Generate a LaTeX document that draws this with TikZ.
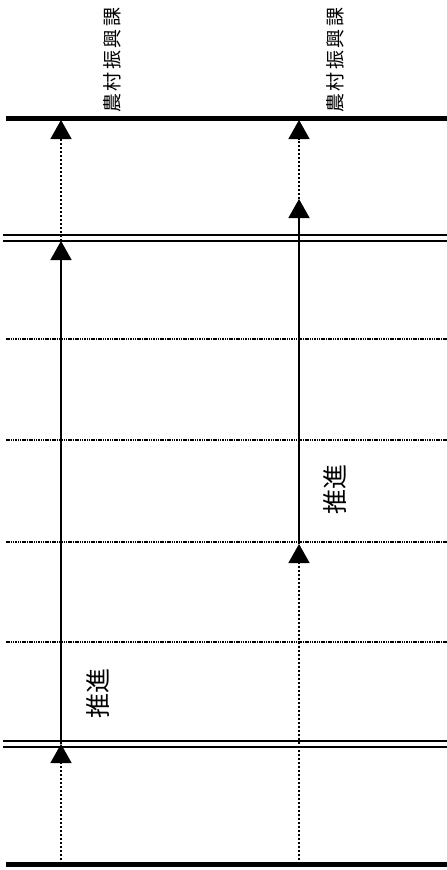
\documentclass[tikz,border=0pt]{standalone}
\usepackage{fontspec}
\newfontfamily\cjk{Noto Sans CJK JP}
\usetikzlibrary{arrows.meta}
\newcommand{\cgap}{\hspace{2.5pt}}
\begin{document}
\begin{tikzpicture}[x=1pt,y=-1pt,
  thickline/.style={line width=5pt},
  dblline/.style={line width=2.5pt},
  dotline/.style={line width=2.2pt, dash pattern=on 1.5pt off 0.8pt},
  vsolid/.style={line width=1.7pt},
  vdot/.style={line width=1.7pt, dash pattern=on 2pt off 2pt},
  tipup/.style={-{Triangle[width=21pt,length=19pt]}},
  lbl/.style={font=\cjk\fontsize{19}{19}\selectfont, rotate=90, inner sep=0pt},
  biglbl/.style={font=\cjk\fontsize{25}{25}\selectfont, rotate=90, inner sep=0pt},
]
\useasboundingbox (0,0) rectangle (447,870);
% horizontal levels
\coordinate (tA) at (6,118);   \coordinate (tB) at (447,118);
\coordinate (bA) at (6,864);   \coordinate (bB) at (447,864);
\coordinate (d1A) at (3,235);  \coordinate (d1B) at (447,235);
\coordinate (d2A) at (3,241);  \coordinate (d2B) at (447,241);
\coordinate (e1A) at (3,741);  \coordinate (e1B) at (447,741);
\coordinate (e2A) at (3,747);  \coordinate (e2B) at (447,747);
\coordinate (p1A) at (6,339);  \coordinate (p1B) at (447,339);
\coordinate (p2A) at (6,440);  \coordinate (p2B) at (447,440);
\coordinate (p3A) at (6,542);  \coordinate (p3B) at (447,542);
\coordinate (p4A) at (6,642);  \coordinate (p4B) at (447,642);
\draw[thickline] (tA) -- (tB);
\draw[thickline] (bA) -- (bB);
\draw[dblline] (d1A) -- (d1B);
\draw[dblline] (d2A) -- (d2B);
\draw[dblline] (e1A) -- (e1B);
\draw[dblline] (e2A) -- (e2B);
\draw[dotline] (p1A) -- (p1B);
\draw[dotline] (p2A) -- (p2B);
\draw[dotline] (p3A) -- (p3B);
\draw[dotline] (p4A) -- (p4B);
% left column
\coordinate (L0) at (61,864);
\coordinate (L1) at (61,744);
\coordinate (L2) at (61,241);
\coordinate (L3) at (61,120);
\draw[vdot,tipup] (L0) -- (L1);
\draw[vsolid,tipup] (L1) -- (L2);
\draw[vdot,tipup] (L2) -- (L3);
% right column
\coordinate (R0) at (299,864);
\coordinate (R1) at (299,544);
\coordinate (R2) at (299,199);
\coordinate (R3) at (299,120);
\draw[vdot,tipup] (R0) -- (R1);
\draw[vsolid,tipup] (R1) -- (R2);
\draw[vdot,tipup] (R2) -- (R3);
% labels
\node[lbl] (labL) at (112,60) {農\cgap 村\cgap 振\cgap 興\cgap 課};
\node[lbl] (labR) at (335,60) {農\cgap 村\cgap 振\cgap 興\cgap 課};
\node[biglbl] (pushL) at (98,693) {推進};
\node[biglbl] (pushR) at (335,489) {推進};
\end{tikzpicture}
\end{document}
